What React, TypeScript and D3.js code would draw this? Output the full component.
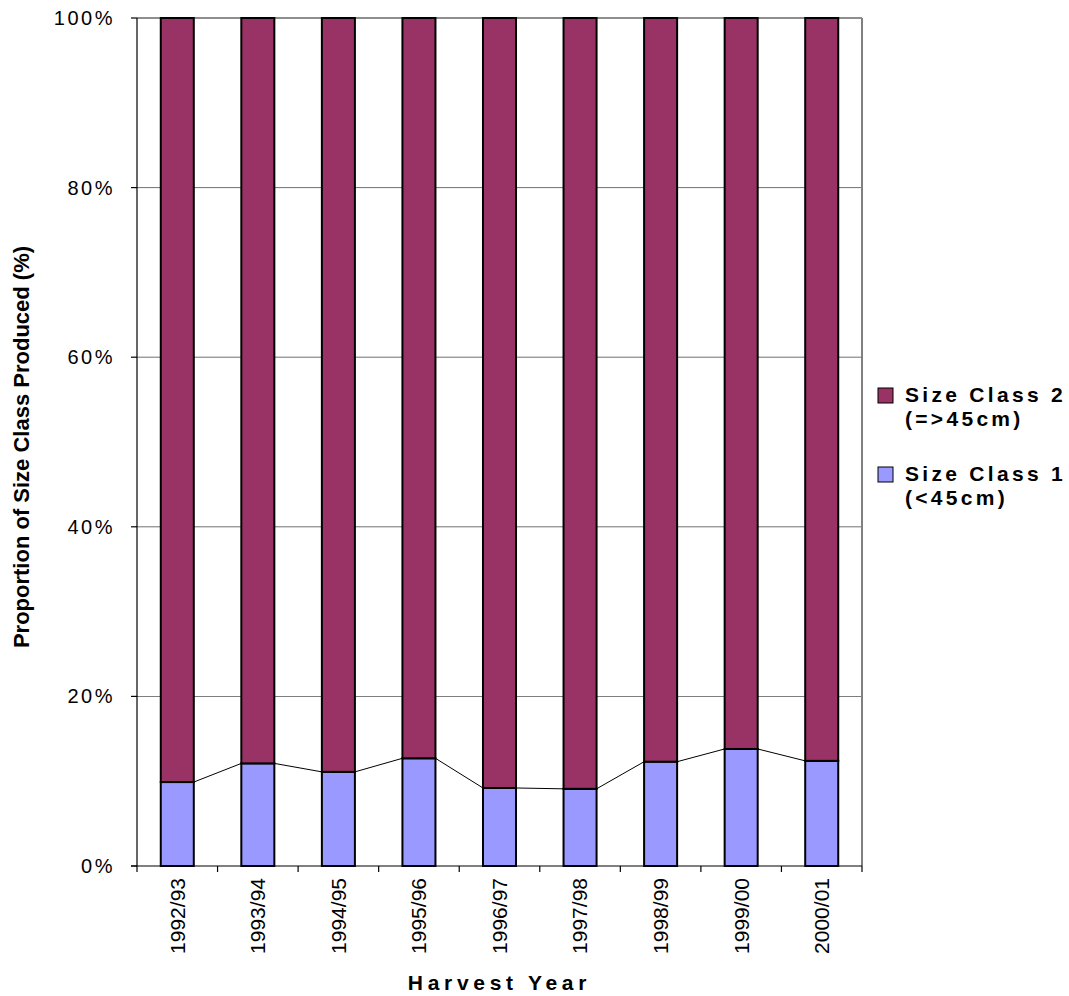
import React from "react";
import * as d3 from "d3";

const categories = ["1992/93", "1993/94", "1994/95", "1995/96", "1996/97", "1997/98", "1998/99", "1999/00", "2000/01"];
const sizeClass1 = [9.9, 12.1, 11.1, 12.7, 9.2, 9.1, 12.3, 13.8, 12.4];
const yTicks = [0, 20, 40, 60, 80, 100];

const W = 1069, H = 996;
const left = 137, right = 862, top = 18, bottom = 866;

export default function App() {
  const x = d3.scaleBand<string>().domain(categories).range([left, right]).paddingInner(0).paddingOuter(0);
  const y = d3.scaleLinear().domain([0, 100]).range([bottom, top]);
  const bw = x.bandwidth() * 0.41;
  const font = "Arial, 'Liberation Sans', sans-serif";
  const c1 = "#9999FF", c2 = "#993366";

  return (
    <svg width={W} height={H} style={{ position: "absolute", left: 0, top: 0 }} fontFamily={font}>
      <rect x={0} y={0} width={W} height={H} fill="#fff" />
      {yTicks.filter((t) => t > 0).map((t) => (
        <line key={t} x1={left} x2={right} y1={y(t)} y2={y(t)} stroke="#000" strokeWidth={0.8} opacity={0.7} />
      ))}
      <line x1={right} x2={right} y1={top} y2={bottom} stroke="#808080" strokeWidth={2} />
      <line x1={left} x2={right} y1={top} y2={top} stroke="#808080" strokeWidth={1.5} />
      {categories.map((c, i) => {
        const cx = (x(c) as number) + x.bandwidth() / 2;
        return (
          <g key={c}>
            <rect x={cx - bw / 2} y={y(sizeClass1[i])} width={bw} height={bottom - y(sizeClass1[i])} fill={c1} stroke="#000" strokeWidth={2} />
            <rect x={cx - bw / 2} y={y(100)} width={bw} height={y(sizeClass1[i]) - y(100)} fill={c2} stroke="#000" strokeWidth={2} />
          </g>
        );
      })}
      {categories.slice(0, -1).map((c, i) => {
        const cx1 = (x(c) as number) + x.bandwidth() / 2 + bw / 2;
        const cx2 = (x(categories[i + 1]) as number) + x.bandwidth() / 2 - bw / 2;
        return <line key={c} x1={cx1} x2={cx2} y1={y(sizeClass1[i])} y2={y(sizeClass1[i + 1])} stroke="#000" strokeWidth={1} />;
      })}
      <line x1={left} x2={left} y1={top} y2={bottom} stroke="#000" strokeWidth={1.2} />
      <line x1={left - 6} x2={right} y1={bottom} y2={bottom} stroke="#000" strokeWidth={1.2} />
      {yTicks.map((t) => (
        <g key={t}>
          <line x1={left - 6} x2={left} y1={y(t)} y2={y(t)} stroke="#000" strokeWidth={1.2} />
          <text x={left - 22} y={y(t)} dy="0.35em" textAnchor="end" fontSize={20} letterSpacing={2.5}>{t + "%"}</text>
        </g>
      ))}
      {categories.map((c) => (
        <line key={"t" + c} x1={x(c) as number} x2={x(c) as number} y1={bottom} y2={bottom + 6} stroke="#000" strokeWidth={1.2} />
      ))}
      <line x1={right} x2={right} y1={bottom} y2={bottom + 6} stroke="#000" strokeWidth={1.2} />
      {categories.map((c) => {
        const cx = (x(c) as number) + x.bandwidth() / 2;
        return (
          <text key={"l" + c} transform={`translate(${cx},${bottom + 12}) rotate(-90)`} textAnchor="end" dy="0.35em" fontSize={21}>{c}</text>
        );
      })}
      <text transform={`translate(29,447) rotate(-90)`} textAnchor="middle" fontSize={22} fontWeight="bold">
        Proportion of Size Class Produced (%)
      </text>
      <text x={(left + right) / 2} y={990} textAnchor="middle" fontSize={21} fontWeight="bold" letterSpacing={4.7}>Harvest Year</text>
      <g fontSize={21} fontWeight="bold" letterSpacing={3.3}>
        <rect x={878} y={388} width={15} height={15} fill={c2} stroke="#000" strokeWidth={1} />
        <text x={905} y={402}>Size Class 2</text>
        <text x={905} y={426}>(=&gt;45cm)</text>
        <rect x={878} y={467} width={15} height={15} fill={c1} stroke="#000" strokeWidth={1} />
        <text x={905} y={481}>Size Class 1</text>
        <text x={905} y={505}>(&lt;45cm)</text>
      </g>
    </svg>
  );
}
